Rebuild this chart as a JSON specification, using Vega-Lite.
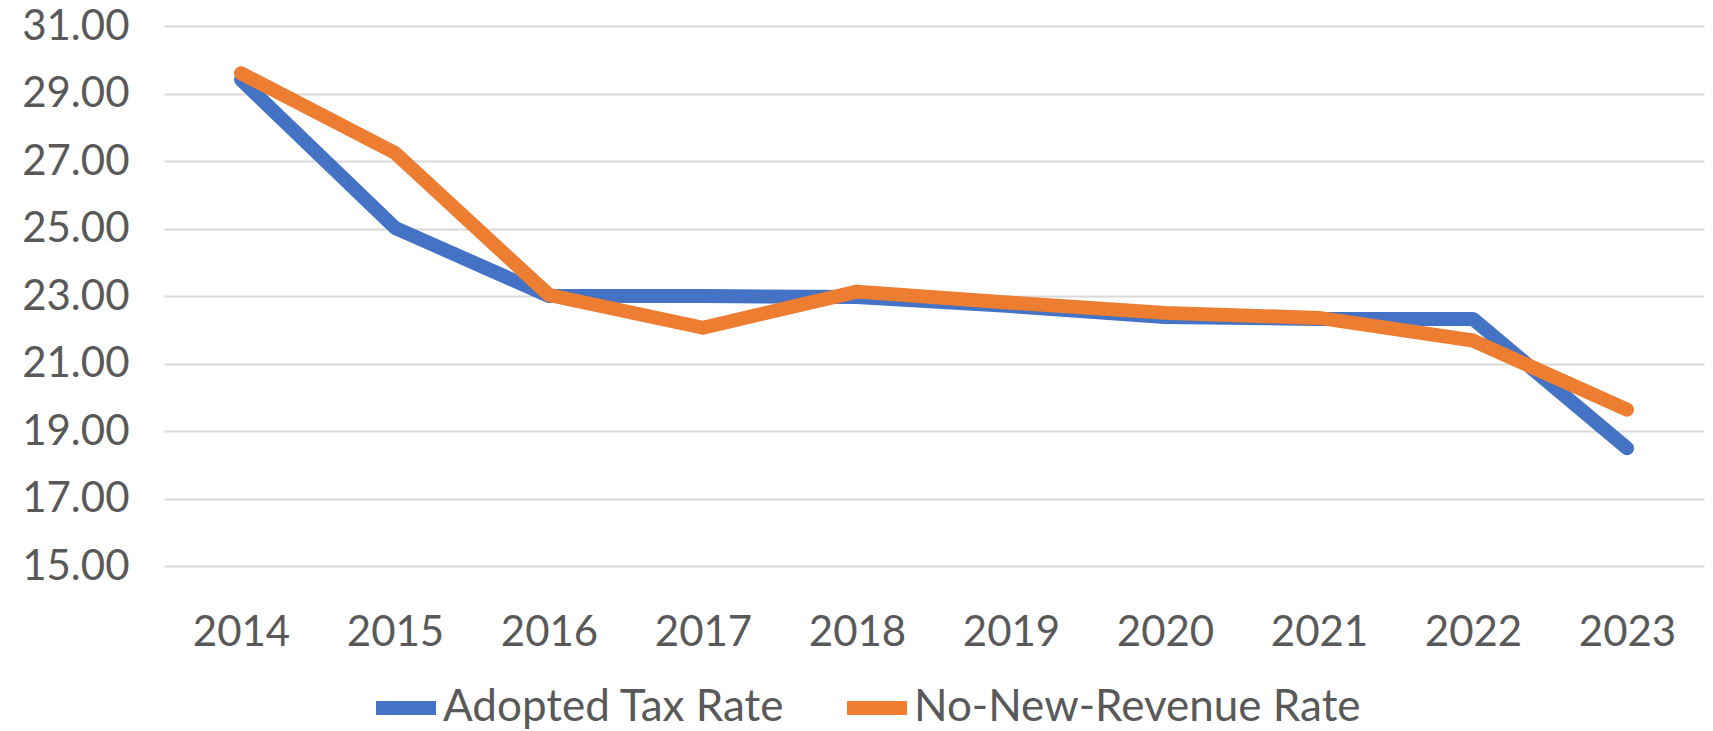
{
  "$schema": "https://vega.github.io/schema/vega-lite/v6.json",
  "width": 1540,
  "height": 540,
  "autosize": {"type": "none"},
  "padding": {"left": 164, "top": 26, "right": 9, "bottom": 165},
  "background": "white",
  "config": {
    "view": {"stroke": null},
    "font": "Lato",
    "axis": {"labelFont": "Lato", "labelColor": "#595959", "labelFontSize": 42, "ticks": false, "domain": false, "title": null},
    "legend": {"labelFont": "Lato", "labelColor": "#595959", "labelFontSize": 44, "labelLimit": 0}
  },
  "data": {
    "values": [
      {"year": "2014", "series": "Adopted Tax Rate", "rate": 29.41},
      {"year": "2015", "series": "Adopted Tax Rate", "rate": 25.02},
      {"year": "2016", "series": "Adopted Tax Rate", "rate": 23.0},
      {"year": "2017", "series": "Adopted Tax Rate", "rate": 23.0},
      {"year": "2018", "series": "Adopted Tax Rate", "rate": 22.97},
      {"year": "2019", "series": "Adopted Tax Rate", "rate": 22.7},
      {"year": "2020", "series": "Adopted Tax Rate", "rate": 22.38},
      {"year": "2021", "series": "Adopted Tax Rate", "rate": 22.32},
      {"year": "2022", "series": "Adopted Tax Rate", "rate": 22.32},
      {"year": "2023", "series": "Adopted Tax Rate", "rate": 18.49},
      {"year": "2014", "series": "No-New-Revenue Rate", "rate": 29.6},
      {"year": "2015", "series": "No-New-Revenue Rate", "rate": 27.24},
      {"year": "2016", "series": "No-New-Revenue Rate", "rate": 23.03},
      {"year": "2017", "series": "No-New-Revenue Rate", "rate": 22.06},
      {"year": "2018", "series": "No-New-Revenue Rate", "rate": 23.13},
      {"year": "2019", "series": "No-New-Revenue Rate", "rate": 22.8},
      {"year": "2020", "series": "No-New-Revenue Rate", "rate": 22.5},
      {"year": "2021", "series": "No-New-Revenue Rate", "rate": 22.35},
      {"year": "2022", "series": "No-New-Revenue Rate", "rate": 21.68},
      {"year": "2023", "series": "No-New-Revenue Rate", "rate": 19.63}
    ]
  },
  "mark": {"type": "line", "strokeWidth": 14, "strokeCap": "round", "strokeJoin": "round"},
  "encoding": {
    "x": {
      "field": "year", "type": "ordinal",
      "scale": {"type": "point", "padding": 0.5},
      "axis": {"labelAngle": 0, "labelPadding": 46, "grid": false}
    },
    "y": {
      "field": "rate", "type": "quantitative",
      "scale": {"domain": [15, 31], "nice": false, "zero": false},
      "axis": {"values": [15, 17, 19, 21, 23, 25, 27, 29, 31], "format": ".2f", "labelPadding": 35, "grid": true, "gridColor": "#D9D9D9", "gridWidth": 2}
    },
    "color": {
      "field": "series", "type": "nominal",
      "scale": {"domain": ["Adopted Tax Rate", "No-New-Revenue Rate"], "range": ["#4472C4", "#ED7D31"]},
      "legend": {
        "title": null, "orient": "none", "direction": "horizontal",
        "legendX": 205, "legendY": 645,
        "symbolType": "stroke", "symbolStrokeWidth": 14, "symbolSize": 3600,
        "labelOffset": 0, "columnPadding": 34
      }
    }
  }
}
